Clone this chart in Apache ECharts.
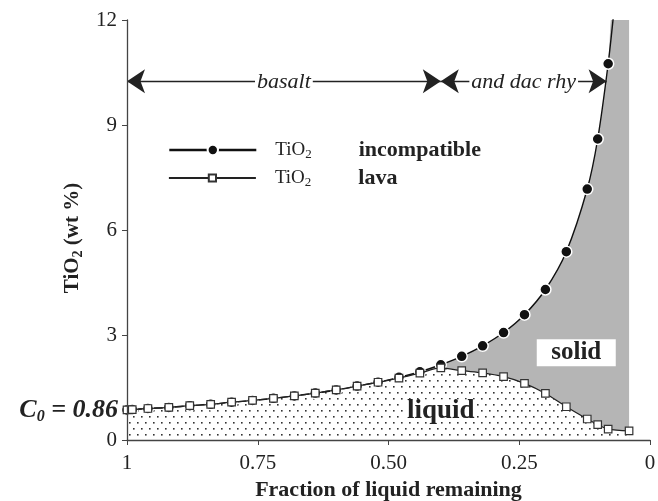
<!DOCTYPE html>
<html>
<head>
<meta charset="utf-8">
<script src="https://cdn.jsdelivr.net/npm/echarts@6/dist/echarts.min.js"></script>
<style>
    html, body { margin: 0; padding: 0; background: #fff; }
    #chart { width: 658px; height: 501px; }
</style>
</head>
<body>
<div id="chart"></div>
<script>
    // fraction of liquid remaining (F) for the incompatible TiO2 points
    var fraction = [1, 0.99, 0.96, 0.92, 0.88, 0.84, 0.80, 0.76, 0.72, 0.68, 0.64, 0.60, 0.56,
        0.52, 0.48, 0.44, 0.40, 0.36, 0.32, 0.28, 0.24, 0.20, 0.16, 0.12, 0.10, 0.08];
    var tiIncompatible = [0.86, 0.87, 0.90, 0.93, 0.98, 1.02, 1.08, 1.13, 1.19, 1.26, 1.34, 1.43, 1.54,
        1.65, 1.79, 1.95, 2.15, 2.39, 2.69, 3.07, 3.58, 4.30, 5.38, 7.17, 8.60, 10.75];

    // TiO2 in the lavas
    var fractionLava = [1, 0.99, 0.96, 0.92, 0.88, 0.84, 0.80, 0.76, 0.72, 0.68, 0.64, 0.60, 0.56,
        0.52, 0.48, 0.44, 0.40, 0.36, 0.32, 0.28, 0.24, 0.20, 0.16, 0.12, 0.10, 0.08, 0.04];
    var tiLava = [0.86, 0.87, 0.90, 0.93, 0.98, 1.02, 1.08, 1.13, 1.19, 1.26, 1.34, 1.43, 1.54,
        1.65, 1.77, 1.91, 2.06, 1.98, 1.92, 1.81, 1.62, 1.33, 0.95, 0.60, 0.44, 0.31, 0.26];

    // where the incompatible curve leaves the top of the plot, and the right edge of the solid field
    var curveExit = [0.068, 12.4];
    var solidEdge = 0.04;

    // rock-type ranges along F
    var rockNames = ['basalt', 'and dac rhy'];
    var rockFrom = [1, 0.40];
    var rockTo = [0.40, 0.083];
    var rockLevel = 10.25;

    var xTickLabels = { '1': '1', '0.75': '0.75', '0.5': '0.50', '0.25': '0.25', '0': '0' };
    var c0 = 0.86;

    var serif = '"Liberation Serif", "DejaVu Serif", serif';
    var ink = '#222';

    function pairs(xs, ys) {
        var out = [];
        for (var i = 0; i < xs.length; i++) out.push([xs[i], ys[i]]);
        return out;
    }

    // dotted fill for the liquid field
    var dots = document.createElement('canvas');
    dots.width = 8;
    dots.height = 12;
    var g = dots.getContext('2d');
    g.fillStyle = '#fff';
    g.fillRect(0, 0, 8, 12);
    g.fillStyle = '#333';
    g.fillRect(1, 2, 1.6, 1.6);
    g.fillRect(5, 8, 1.6, 1.6);

    var incompData = pairs(fraction, tiIncompatible);
    var solidData = incompData.concat([curveExit, [solidEdge, curveExit[1]]]);
    var incompLine = incompData.concat([{ value: curveExit, symbol: 'none' }]);
    var lavaData = pairs(fractionLava, tiLava);

    var smooth = 0.3;

    var legendRich = {
        t: { fontFamily: serif, fontSize: 19, color: ink, lineHeight: 22, padding: [0, 0, 0, 14] },
        s: { fontFamily: serif, fontSize: 13, color: ink, lineHeight: 12, verticalAlign: 'bottom' },
        n: { fontFamily: serif, fontWeight: 'bold', fontSize: 22, color: ink, lineHeight: 22, padding: [0, 0, 0, 47] }
    };

    var chart = echarts.init(document.getElementById('chart'));
    var option = {
        animation: false,
        backgroundColor: '#fff',
        grid: { left: 127, right: 8, top: 20, bottom: 61, outerBoundsMode: 'none' },
        xAxis: {
            type: 'value',
            inverse: true,
            min: 0,
            max: 1,
            interval: 0.25,
            name: 'Fraction of liquid remaining',
            nameLocation: 'middle',
            nameGap: 39,
            nameTextStyle: { fontFamily: serif, fontWeight: 'bold', fontSize: 22, color: ink },
            axisLine: { onZero: false, lineStyle: { color: '#444', width: 1.3 } },
            axisTick: { length: 5, lineStyle: { color: '#444' } },
            axisLabel: {
                margin: 13,
                fontFamily: serif,
                fontSize: 21,
                color: ink,
                formatter: function (v) { return xTickLabels[String(v)]; }
            },
            splitLine: { show: false },
            z: 10
        },
        yAxis: {
            type: 'value',
            min: 0,
            max: 12,
            interval: 3,
            name: '{a|TiO}{s|2}{a| (wt %)}',
            nameLocation: 'middle',
            nameGap: 30,
            nameTextStyle: {
                padding: [0, 16, 0, 0],
                rich: {
                    a: { fontFamily: serif, fontWeight: 'bold', fontSize: 21, color: ink, lineHeight: 26 },
                    s: { fontFamily: serif, fontWeight: 'bold', fontSize: 14, color: ink, lineHeight: 14, verticalAlign: 'bottom' }
                }
            },
            axisLine: { show: true, onZero: false, lineStyle: { color: '#444', width: 1.3 } },
            axisTick: { show: true, length: 5, lineStyle: { color: '#444' } },
            axisLabel: { margin: 10, fontFamily: serif, fontSize: 21, color: ink },
            splitLine: { show: false },
            z: 10
        },
        legend: [
            {
                data: ['incompatible'],
                left: 168,
                top: 139,
                padding: 0,
                itemWidth: 87,
                itemHeight: 13,
                selectedMode: false,
                lineStyle: { width: 2.6, color: '#111' },
                formatter: '{t|TiO}{s|2}{n|{name}}',
                textStyle: { rich: legendRich }
            },
            {
                data: ['lava'],
                left: 168,
                top: 167,
                padding: 0,
                itemWidth: 87,
                itemHeight: 9,
                selectedMode: false,
                lineStyle: { width: 1.8, color: '#222' },
                formatter: '{t|TiO}{s|2}{n|{name}}',
                textStyle: { rich: legendRich }
            }
        ],
        series: [
            {
                name: 'solid',
                type: 'line',
                data: solidData,
                smooth: smooth,
                showSymbol: false,
                silent: true,
                lineStyle: { width: 0 },
                areaStyle: { color: '#b5b5b5', opacity: 1 },
                z: 1,
                markLine: {
                    silent: true,
                    symbol: ['arrow', 'arrow'],
                    symbolSize: 18,
                    lineStyle: { color: ink, width: 1.3, type: 'solid' },
                    label: {
                        show: true,
                        position: 'middle',
                        distance: -12,
                        formatter: '{b}',
                        fontFamily: serif,
                        fontStyle: 'italic',
                        fontSize: 22,
                        color: ink,
                        backgroundColor: '#fff',
                        padding: [0, 2]
                    },
                    data: rockNames.map(function (n, i) {
                        return [{ name: n, coord: [rockFrom[i], rockLevel] }, { coord: [rockTo[i], rockLevel] }];
                    })
                }
            },
            {
                name: 'liquid',
                type: 'line',
                data: lavaData,
                smooth: smooth,
                showSymbol: false,
                silent: true,
                lineStyle: { width: 0 },
                areaStyle: { color: { image: dots, repeat: 'repeat' }, opacity: 1 },
                z: 2
            },
            {
                name: 'incompatible',
                type: 'line',
                data: incompLine,
                smooth: smooth,
                showAllSymbol: true,
                symbol: 'circle',
                symbolSize: 11,
                itemStyle: { color: '#111', borderColor: '#fff', borderWidth: 1.5 },
                lineStyle: { color: '#111', width: 1.4 },
                z: 3
            },
            {
                name: 'lava',
                type: 'line',
                data: lavaData,
                smooth: smooth,
                showAllSymbol: true,
                symbol: 'rect',
                symbolSize: 7.5,
                itemStyle: { color: '#fff', borderColor: '#333', borderWidth: 1.2 },
                lineStyle: { color: '#222', width: 1.3 },
                z: 4,
                markPoint: {
                    silent: true,
                    data: [
                        {
                            coord: [1, c0],
                            symbol: 'rect',
                            symbolSize: 0,
                            label: {
                                show: true,
                                position: 'left',
                                distance: 9,
                                formatter: '{c|C}{s|0}{c| = ' + c0 + '}',
                                rich: {
                                    c: { fontFamily: serif, fontWeight: 'bold', fontStyle: 'italic', fontSize: 26, color: ink, lineHeight: 30 },
                                    s: { fontFamily: serif, fontWeight: 'bold', fontStyle: 'italic', fontSize: 16, color: ink, lineHeight: 16, verticalAlign: 'bottom' }
                                }
                            }
                        },
                        {
                            coord: [0.141, 2.49],
                            symbol: 'rect',
                            symbolSize: [79, 27],
                            itemStyle: { color: '#fff' },
                            label: {
                                show: true, position: 'inside', formatter: 'solid',
                                fontFamily: serif, fontWeight: 'bold', fontSize: 25, color: ink
                            }
                        },
                        {
                            coord: [0.40, 0.84],
                            symbol: 'rect',
                            symbolSize: [72, 22],
                            itemStyle: { color: '#fff' },
                            label: {
                                show: true, position: 'inside', formatter: 'liquid',
                                fontFamily: serif, fontWeight: 'bold', fontSize: 27, color: ink
                            }
                        }
                    ]
                }
            }
        ]
    };
    chart.setOption(option);
</script>
</body>
</html>
